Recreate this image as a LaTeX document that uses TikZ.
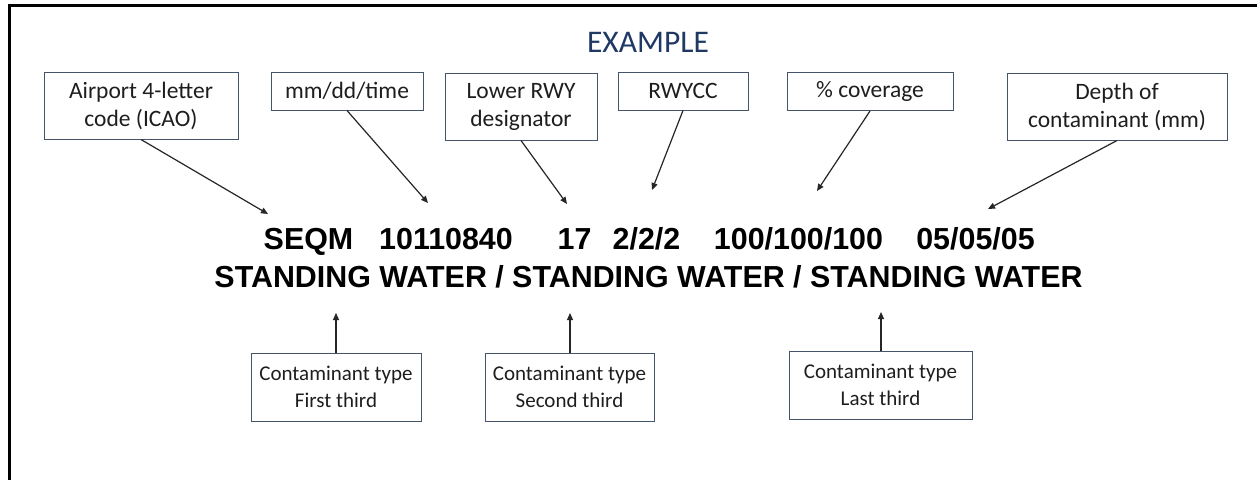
\documentclass[tikz,border=0pt]{standalone}
\usepackage{fontspec}
\setmainfont{Carlito}
\newfontfamily\codefont{Liberation Sans}
\usetikzlibrary{arrows.meta}
\definecolor{boxline}{RGB}{68,84,106}
\definecolor{navy}{RGB}{31,56,100}
\definecolor{txt}{RGB}{30,30,30}
\begin{document}
\begin{tikzpicture}[x=1pt,y=-1pt,
  lbl/.style={draw=boxline,line width=1pt,fill=white,text=txt,align=center,
    font=\fontsize{23.5}{28}\selectfont,inner sep=0pt,anchor=center},
  low/.style={lbl,font=\fontsize{21}{27}\selectfont,minimum height=68pt},
  one/.style={lbl,minimum height=38pt},
  two/.style={lbl,minimum height=67pt},
  code/.style={font=\codefont\bfseries\fontsize{30.4}{36}\selectfont,inner sep=0pt,anchor=base,text=black},
  conn/.style={line width=1.2pt,draw=black!85,-{Triangle[length=7pt,width=6pt]}}]
\useasboundingbox (0,0) rectangle (1257,480);
\fill[white] (0,0) rectangle (1257,480);
% frame
\draw[line width=3pt] (9,480) -- (9,5) -- (1257,5);
% title
\node[text=navy,font=\fontsize{31.5}{36}\selectfont,anchor=base,inner sep=0pt] (title) at (648,52) {EXAMPLE};
% upper boxes
\node[two,minimum width=194pt] (airport) at (141,105.5) {Airport 4-letter\\code (ICAO)};
\node[one,minimum width=152pt] (date) at (347,91) {mm/dd/time};
\node[two,minimum width=152pt] (lower) at (521,106.5) {Lower RWY\\designator};
\node[one,minimum width=130pt] (rwycc) at (683,91) {RWYCC};
\node[one,minimum width=166pt] (cov) at (870,91.5) {\% coverage};
\node[two,minimum width=220pt] (depth) at (1117,106.5) {Depth of\\contaminant (mm)};
% code line 1
\node[code] (seqm) at (308.5,249) {SEQM};
\node[code] (dt) at (446,249) {10110840};
\node[code] (rwy) at (574.5,249) {17};
\node[code] (rcc) at (646.5,249) {2/2/2};
\node[code] (pct) at (798.5,249) {100/100/100};
\node[code] (dep) at (975.5,249) {05/05/05};
% code line 2
\node[code] (cont) at (648.5,287) {STANDING WATER / STANDING WATER / STANDING WATER};
% lower boxes
\node[low,minimum width=170pt] (first) at (336,387) {Contaminant type\\First third};
\node[low,minimum width=169pt] (second) at (569.5,387) {Contaminant type\\Second third};
\node[low,minimum width=183pt] (last) at (880.5,385) {Contaminant type\\Last third};
% arrow tips
\coordinate (tA) at (268,214);
\coordinate (tB) at (428,203);
\coordinate (tC) at (567,204);
\coordinate (tD) at (652,190);
\coordinate (tE) at (817,191);
\coordinate (tF) at (988,209);
\coordinate (tG) at (336,313);
\coordinate (tH) at (570,313);
\coordinate (tI) at (881,312);
% connectors
\draw[conn] (airport.south) -- (tA);
\draw[conn] (date.south) -- (tB);
\draw[conn] (lower.south) -- (tC);
\draw[conn] (rwycc.south) -- (tD);
\draw[conn] (cov.south) -- (tE);
\draw[conn] (depth.south) -- (tF);
\draw[conn] (first.north) -- (tG);
\draw[conn] ([xshift=0.5pt]second.north) -- (tH);
\draw[conn] ([xshift=0.5pt]last.north) -- (tI);
\end{tikzpicture}
\end{document}
